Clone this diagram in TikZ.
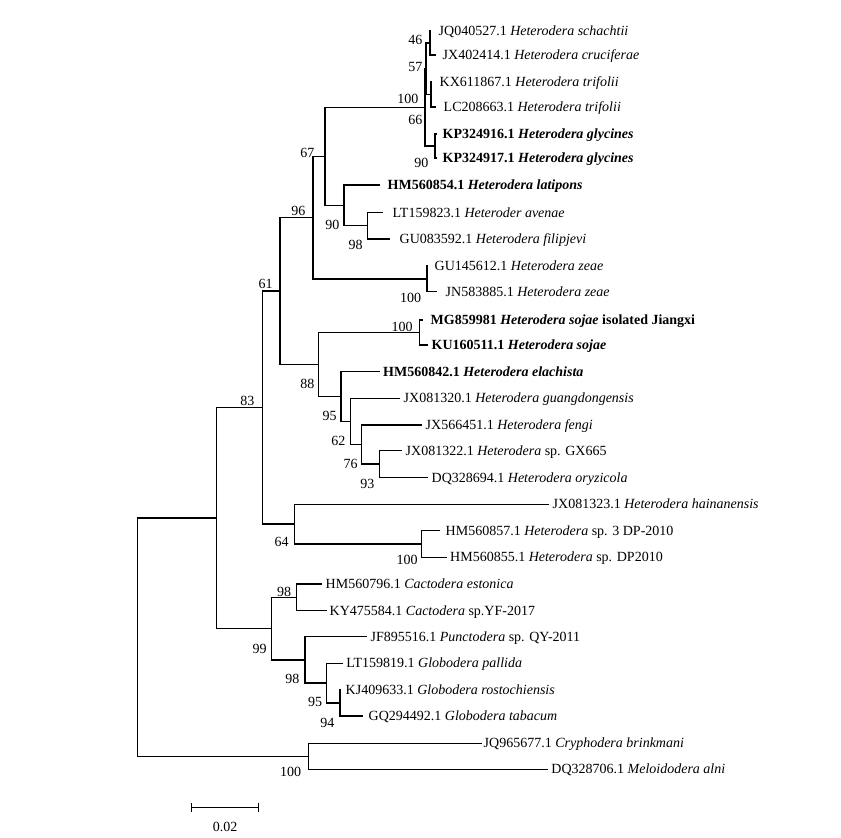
\documentclass[tikz,border=0pt]{standalone}
\usepackage{fontspec}
\setmainfont{Liberation Serif}
\usetikzlibrary{arrows.meta, positioning}

\begin{document}
\begin{tikzpicture}[x=1pt, y=-1pt, line width=1.4pt,
    leaf/.style={anchor=west, inner sep=0pt, font=\fontsize{14}{16}\selectfont, text height=9.3pt, text depth=0pt},
    boot/.style={anchor=east, inner sep=0pt, font=\fontsize{14}{16}\selectfont, text height=9.5pt, text depth=0pt}]
        \useasboundingbox (0,0) rectangle (841,838);

        % Leaves
        \node[leaf] (schachtii) at (438,31) {JQ040527.1 \textit{Heterodera schachtii}};
        \node[leaf] (cruciferae) at (442,55) {JX402414.1 \textit{Heterodera cruciferae}};
        \node[leaf] (trifoliiA) at (439,82) {KX611867.1 \textit{Heterodera trifolii}};
        \node[leaf] (trifoliiB) at (443,107) {LC208663.1 \textit{Heterodera trifolii}};
        \node[leaf] (glycinesA) at (442,134) {\textbf{KP324916.1 \textit{Heterodera glycines}}};
        \node[leaf] (glycinesB) at (442,158) {\textbf{KP324917.1 \textit{Heterodera glycines}}};
        \node[leaf] (latipons) at (387,185) {\textbf{HM560854.1 \textit{Heterodera latipons}}};
        \node[leaf] (avenae) at (392,212.5) {LT159823.1 \textit{Heteroder avenae}};
        \node[leaf] (filipjevi) at (399,239) {GU083592.1 \textit{Heterodera filipjevi}};
        \node[leaf] (zeaeA) at (434,266) {GU145612.1 \textit{Heterodera zeae}};
        \node[leaf] (zeaeB) at (445,291.7) {JN583885.1 \textit{Heterodera zeae}};
        \node[leaf] (sojaeA) at (430,320) {\textbf{MG859981 \textit{Heterodera sojae} isolated Jiangxi}};
        \node[leaf] (sojaeB) at (431,345) {\textbf{KU160511.1 \textit{Heterodera sojae}}};
        \node[leaf] (elachista) at (382.5,371.7) {\textbf{HM560842.1 \textit{Heterodera elachista}}};
        \node[leaf] (guangdong) at (403,398.3) {JX081320.1 \textit{Heterodera guangdongensis}};
        \node[leaf] (fengi) at (425,425) {JX566451.1 \textit{Heterodera fengi}};
        \node[leaf] (gx665) at (405,450.7) {JX081322.1 \textit{Heterodera} sp. GX665};
        \node[leaf] (oryzicola) at (431,477.5) {DQ328694.1 \textit{Heterodera oryzicola}};
        \node[leaf] (hainan) at (552,504.3) {JX081323.1 \textit{Heterodera hainanensis}};
        \node[leaf] (dp3) at (445,530.7) {HM560857.1 \textit{Heterodera} sp. 3 DP-2010};
        \node[leaf] (dp) at (449.5,557.3) {HM560855.1 \textit{Heterodera} sp. DP2010};
        \node[leaf] (estonica) at (325,584) {HM560796.1 \textit{Cactodera estonica}};
        \node[leaf] (cactsp) at (329,610.7) {KY475584.1 \textit{Cactodera} sp.YF-2017};
        \node[leaf] (punctodera) at (370,636.7) {JF895516.1 \textit{Punctodera} sp. QY-2011};
        \node[leaf] (pallida) at (345.7,663.3) {LT159819.1 \textit{Globodera pallida}};
        \node[leaf] (rosto) at (345,690) {KJ409633.1 \textit{Globodera rostochiensis}};
        \node[leaf] (tabacum) at (368,716) {GQ294492.1 \textit{Globodera tabacum}};
        \node[leaf] (cryphodera) at (483,743.3) {JQ965677.1 \textit{Cryphodera brinkmani}};
        \node[leaf] (meloidodera) at (550.7,769.3) {DQ328706.1 \textit{Meloidodera alni}};

        % Branch tips
        \coordinate (schachtii-tip) at (430.5,31);
        \coordinate (cruciferae-tip) at (436,55);
        \coordinate (trifoliiA-tip) at (432,82);
        \coordinate (trifoliiB-tip) at (436,107);
        \coordinate (glycinesA-tip) at (437,134);
        \coordinate (glycinesB-tip) at (437,158);
        \coordinate (latipons-tip) at (380,185);
        \coordinate (avenae-tip) at (383,212.5);
        \coordinate (filipjevi-tip) at (390,239);
        \coordinate (zeaeA-tip) at (428,266);
        \coordinate (zeaeB-tip) at (436.7,291.7);
        \coordinate (sojaeA-tip) at (423,320);
        \coordinate (sojaeB-tip) at (428,345);
        \coordinate (elachista-tip) at (380,371.7);
        \coordinate (guangdong-tip) at (400,398.3);
        \coordinate (fengi-tip) at (421.7,425);
        \coordinate (gx665-tip) at (401.7,450.7);
        \coordinate (oryzicola-tip) at (428,477.5);
        \coordinate (hainan-tip) at (549.3,504.3);
        \coordinate (dp3-tip) at (440,530.7);
        \coordinate (dp-tip) at (446.7,557.3);
        \coordinate (estonica-tip) at (321.7,584);
        \coordinate (cactsp-tip) at (326.7,610.7);
        \coordinate (punctodera-tip) at (366.7,636.7);
        \coordinate (pallida-tip) at (343.3,663.3);
        \coordinate (rosto-tip) at (341,690);
        \coordinate (tabacum-tip) at (363.3,716);
        \coordinate (cryphodera-tip) at (481.7,743.3);
        \coordinate (meloidodera-tip) at (548.3,769.3);

        % Internal nodes
        \coordinate (n46) at (430,43);
        \coordinate (n34) at (431,94.5);
        \coordinate (n57) at (426,68.75);
        \coordinate (n90g) at (435,146);
        \coordinate (n100t) at (425,107.4);
        \coordinate (n98a) at (367.3,225.75);
        \coordinate (n90b) at (344,205.4);
        \coordinate (n67) at (325,156.4);
        \coordinate (n100z) at (427,278.85);
        \coordinate (n96) at (313,217.6);
        \coordinate (n100s) at (419.3,332.5);
        \coordinate (n93) at (379.3,464.1);
        \coordinate (n76) at (361.7,444.55);
        \coordinate (n62) at (350.7,421.4);
        \coordinate (n95) at (341,396.55);
        \coordinate (n88) at (318.3,364.5);
        \coordinate (n61) at (280,291);
        \coordinate (n100d) at (421.7,544);
        \coordinate (n64) at (294.3,524.15);
        \coordinate (n83) at (262.7,407.6);
        \coordinate (n98c) at (296.7,597.35);
        \coordinate (n94) at (340,703);
        \coordinate (n95g) at (326.7,683.15);
        \coordinate (n98g) at (305,659.9);
        \coordinate (n99) at (271.7,628.6);
        \coordinate (nin) at (216.5,518.1);
        \coordinate (n100o) at (308.3,756.3);
        \coordinate (root) at (137.7,637.2);

        % Branches
        \draw (schachtii-tip) -| (n46) |- (cruciferae-tip);
        \draw (trifoliiA-tip) -| (n34) |- (trifoliiB-tip);
        \draw (n46) -| (n57) |- (n34);
        \draw (glycinesA-tip) -| (n90g) |- (glycinesB-tip);
        \draw (n57) -| (n100t) |- (n90g);
        \draw (avenae-tip) -| (n98a) |- (filipjevi-tip);
        \draw (latipons-tip) -| (n90b) |- (n98a);
        \draw (n100t) -| (n67) |- (n90b);
        \draw (zeaeA-tip) -| (n100z) |- (zeaeB-tip);
        \draw (n67) -| (n96) |- (n100z);
        \draw (sojaeA-tip) -| (n100s) |- (sojaeB-tip);
        \draw (gx665-tip) -| (n93) |- (oryzicola-tip);
        \draw (fengi-tip) -| (n76) |- (n93);
        \draw (guangdong-tip) -| (n62) |- (n76);
        \draw (elachista-tip) -| (n95) |- (n62);
        \draw (n100s) -| (n88) |- (n95);
        \draw (n96) -| (n61) |- (n88);
        \draw (dp3-tip) -| (n100d) |- (dp-tip);
        \draw (hainan-tip) -| (n64) |- (n100d);
        \draw (n61) -| (n83) |- (n64);
        \draw (estonica-tip) -| (n98c) |- (cactsp-tip);
        \draw (rosto-tip) -| (n94) |- (tabacum-tip);
        \draw (pallida-tip) -| (n95g) |- (n94);
        \draw (punctodera-tip) -| (n98g) |- (n95g);
        \draw (n98c) -| (n99) |- (n98g);
        \draw (n83) -| (nin) |- (n99);
        \draw (cryphodera-tip) -| (n100o) |- (meloidodera-tip);
        \draw (nin) -| (root) |- (n100o);

        % Bootstrap values
        \node[boot] (b46) at (423,40) {46};
        \node[boot] (b57) at (423,66.5) {57};
        \node[boot] (b100t) at (419,98.5) {100};
        \node[boot] (b66) at (423,120) {66};
        \node[boot] (b90g) at (429,163) {90};
        \node[boot] (b67) at (315,152.3) {67};
        \node[boot] (b90b) at (340,224.5) {90};
        \node[boot] (b98a) at (363.3,244.5) {98};
        \node[boot] (b96) at (306,210.7) {96};
        \node[boot] (b100z) at (421.7,297.3) {100};
        \node[boot] (b61) at (273.3,283.3) {61};
        \node[boot] (b100s) at (413.3,326.7) {100};
        \node[boot] (b88) at (315,383.3) {88};
        \node[boot] (b95) at (337.3,415.7) {95};
        \node[boot] (b62) at (346,440.7) {62};
        \node[boot] (b76) at (358.3,463.3) {76};
        \node[boot] (b93) at (375,484) {93};
        \node[boot] (b83) at (255,400.7) {83};
        \node[boot] (b64) at (289.3,541.7) {64};
        \node[boot] (b100d) at (418.3,560) {100};
        \node[boot] (b98c) at (291.7,591.7) {98};
        \node[boot] (b99) at (267.3,648.3) {99};
        \node[boot] (b98g) at (300,678.3) {98};
        \node[boot] (b95g) at (322.7,701.7) {95};
        \node[boot] (b94) at (335,722.7) {94};
        \node[boot] (b100o) at (301.7,771.7) {100};

        % Scale bar
        \coordinate (bar-l) at (190.7,807.3);
        \coordinate (bar-r) at (259.3,807.3);
        \draw[{Bar[width=9.6pt]}-{Bar[width=9.6pt]}] (bar-l) -- (bar-r);
        \node[boot, anchor=center] (barlabel) at (225,826.7) {0.02};
    \end{tikzpicture}
\end{document}
